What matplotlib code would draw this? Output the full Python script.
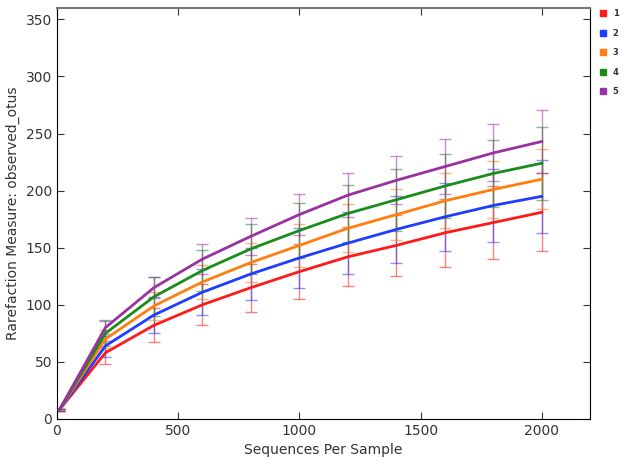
import numpy as np
import matplotlib
matplotlib.use("Agg")
import matplotlib.pyplot as plt

# rarefaction depths and per-group means / std devs
depth = [10, 200, 400, 600, 800, 1000, 1200, 1400, 1600, 1800, 2000]
groups = ["1", "2", "3", "4", "5"]
colors = ["#ff1a1a", "#1f3dff", "#ff7f0e", "#1a8c1a", "#9932a0"]
means = {
    "1": [8, 58, 82, 100, 115, 129, 142, 152, 163, 172, 181],
    "2": [8, 64, 91, 111, 127, 141, 154, 166, 177, 187, 195],
    "3": [8, 70, 99, 120, 137, 152, 167, 179, 191, 201, 210],
    "4": [8, 75, 107, 130, 149, 165, 180, 192, 204, 215, 224],
    "5": [8, 80, 115, 140, 160, 179, 196, 209, 221, 233, 243],
}
stds = {
    "1": [1, 10, 15, 18, 21, 24, 26, 27, 30, 32, 34],
    "2": [1, 10, 16, 20, 23, 26, 27, 29, 30, 32, 32],
    "3": [1, 8, 12, 15, 17, 19, 21, 22, 24, 25, 26],
    "4": [1, 11, 17, 18, 22, 24, 25, 27, 28, 29, 32],
    "5": [1, 7, 9, 13, 16, 18, 19, 21, 24, 25, 28],
}

plt.rcParams.update({"font.size": 10, "text.color": "#333333",
                     "axes.labelcolor": "#333333", "xtick.color": "#333333",
                     "ytick.color": "#333333"})

fig = plt.figure(figsize=(6.26, 4.66), dpi=100)
ax = fig.add_axes([0.091, 0.101, 0.852, 0.882])

for g, c in zip(groups, colors):
    # error bars underneath, mean curve on top
    ax.errorbar(depth, means[g], yerr=stds[g], fmt="none", ecolor=c,
                elinewidth=1, capsize=4, capthick=1, alpha=0.55, zorder=2)
for g, c in zip(groups, colors):
    ax.plot(depth, means[g], color=c, lw=2, zorder=3)

ax.set_xlim(0, 2200)
ax.set_ylim(0, 360)
ax.set_xticks([0, 500, 1000, 1500, 2000])
ax.set_yticks(range(0, 351, 50))
ax.tick_params(direction="in", top=True, right=True, length=5)
ax.spines["top"].set_color("#777777")
ax.spines["top"].set_linewidth(1.5)
ax.set_xlabel("Sequences Per Sample")
ax.set_ylabel("Rarefaction Measure: observed_otus")

handles = [plt.Line2D([], [], ls="", marker="s", ms=4, color=c) for c in colors]
ax.legend(handles, groups, loc="upper left", bbox_to_anchor=(1.0, 1.015),
          frameon=False, prop={"size": 6, "weight": "bold"}, handletextpad=0.6,
          labelspacing=1.25, handlelength=1.2)

fig.savefig("out.png", dpi=100)
